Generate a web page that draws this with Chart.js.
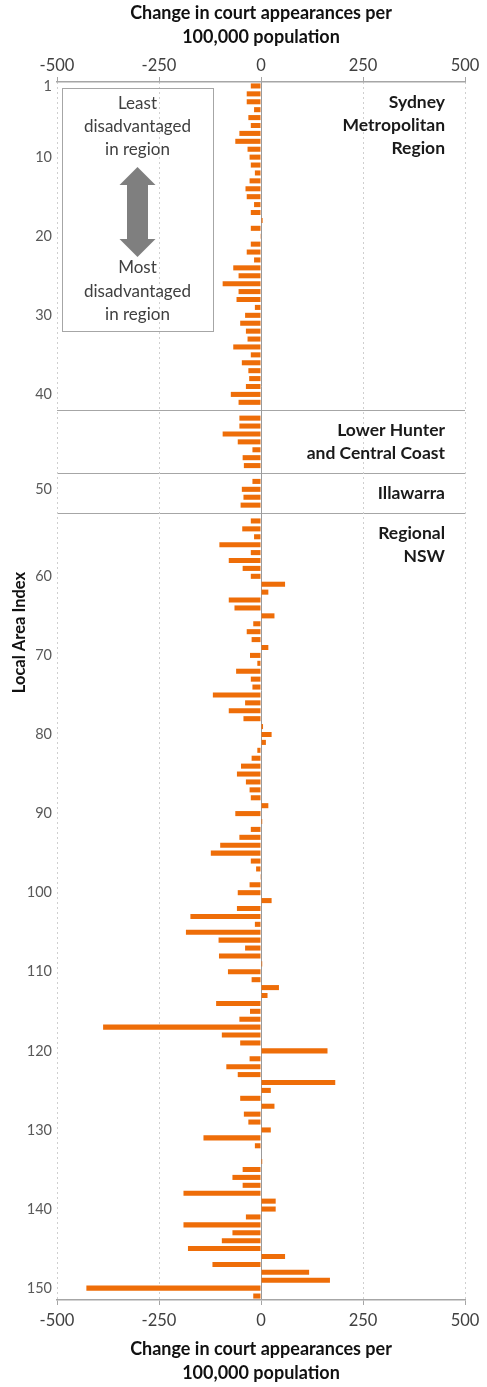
<!DOCTYPE html>
<html>
<head>
<meta charset="utf-8">
<script src="https://cdn.jsdelivr.net/npm/chart.js@4.4.1/dist/chart.umd.min.js"></script>
<style>
  html, body { margin: 0; padding: 0; background: #fff; }
  #wrap { width: 487px; height: 1387px; position: relative; }
</style>
</head>
<body>
<div id="wrap"><canvas id="lgaChart"></canvas></div>
<script>
// change in court appearances per 100,000 population, by local area index
var regionNames = [
    ['Sydney', 'Metropolitan', 'Region'],
    ['Lower Hunter', 'and Central Coast'],
    ['Illawarra'],
    ['Regional', 'NSW']
];
var sydneyValues = [-25, -35, -35, -17, -31, -25, -53, -63, -33, -28,
    -25, -15, -28, -38, -35, -17, -25, 4, -25, -2,
    -25, -35, -17, -68, -55, -94, -55, -60, -15, -39,
    -51, -37, -33, -68, -25, -47, -31, -29, -37, -74, -55];
var lowerHunterValues = [-53, -53, -94, -57, -21, -45, -42];
var illawarraValues = [-21, -47, -43, -50];
var regionalValues = [-25, -46, -17, -102, -25, -79, -45, -25, 59, 18,
    -79, -65, 33, -19, -35, -23, 18, -27, -9, -61,
    -25, -21, -118, -39, -79, -43, 5, 26, 12, -9,
    -23, -49, -59, -37, -28, -25, 18, -63, 3, -25,
    -53, -100, -123, -25, -12, -2, -28, -57, 26, -59,
    -173, -15, -184, -104, -39, -103, 3, -81, -23, 44,
    16, -110, -27, -53, -387, -96, -51, 163, -28, -85,
    -57, 182, 24, -51, 33, -42, -31, 24, -141, -15,
    0, 3, -45, -70, -45, -190, 36, 36, -37, -190,
    -70, -96, -179, 59, -119, 118, 169, -428, -19];
var yTickLabels = [1, 10, 20, 30, 40, 50, 60, 70, 80, 90, 100, 110, 120, 130, 140, 150];
var xTickLabels = [-500, -250, 0, 250, 500];
var xTitle = ['Change in court appearances per', '100,000 population'];
var yTitle = 'Local Area Index';
var legendTop = ['Least', 'disadvantaged', 'in region'];
var legendBottom = ['Most', 'disadvantaged', 'in region'];

//================ build categories: a blank slot separates each region
var regionSeries = [sydneyValues, lowerHunterValues, illawarraValues, regionalValues];
var labels = [], values = [], regionStart = [];
var n = 1;
for (var r = 0; r < regionSeries.length; r++) {
    if (r > 0) { labels.push(''); values.push(null); }
    regionStart.push(labels.length - (r > 0 ? 1 : 0));
    for (var j = 0; j < regionSeries[r].length; j++) {
        labels.push(String(n));
        values.push(regionSeries[r][j]);
        n++;
    }
}

var FONT = 'Lato';
Chart.defaults.font.family = FONT;

//================ extra drawing: region names, legend box, y title
var extrasPlugin = {
    id: 'extras',
    afterDraw: function(chart) {
        var ctx = chart.ctx, ca = chart.chartArea, ys = chart.scales.y;
        ctx.save();
        // region names, right aligned
        ctx.fillStyle = '#1a1a1a';
        ctx.font = 'bold 17.5px ' + FONT;
        ctx.textAlign = 'right';
        ctx.textBaseline = 'middle';
        for (var r = 0; r < regionNames.length; r++) {
            var topPx = r === 0 ? ca.top : ys.getPixelForValue(regionStart[r]);
            for (var k = 0; k < regionNames[r].length; k++) {
                ctx.fillText(regionNames[r][k], ca.right - 20, topPx + 20 + k * 23);
            }
        }
        // legend box
        var bx = ca.left + 5, by = ca.top + 6, bw = 151, bh = 243;
        ctx.strokeStyle = '#a6a6a6';
        ctx.lineWidth = 1;
        ctx.strokeRect(bx + 0.5, by + 0.5, bw, bh);
        var cx = bx + bw / 2;
        ctx.fillStyle = '#404040';
        ctx.font = '17px ' + FONT;
        ctx.textAlign = 'center';
        legendTop.forEach(function(t, i) { ctx.fillText(t, cx, by + 16 + i * 23); });
        legendBottom.forEach(function(t, i) { ctx.fillText(t, cx, by + 180 + i * 23.5); });
        // double headed arrow
        var at = by + 79, ab = by + 169, hw = 18, sw = 10.5, hh = 18;
        ctx.fillStyle = '#7f7f7f';
        ctx.beginPath();
        ctx.moveTo(cx, at);
        ctx.lineTo(cx + hw, at + hh);
        ctx.lineTo(cx + sw, at + hh);
        ctx.lineTo(cx + sw, ab - hh);
        ctx.lineTo(cx + hw, ab - hh);
        ctx.lineTo(cx, ab);
        ctx.lineTo(cx - hw, ab - hh);
        ctx.lineTo(cx - sw, ab - hh);
        ctx.lineTo(cx - sw, at + hh);
        ctx.lineTo(cx - hw, at + hh);
        ctx.closePath();
        ctx.fill();
        // y axis title
        ctx.translate(20, ca.top + (ca.bottom - ca.top) * 0.452);
        ctx.rotate(-Math.PI / 2);
        ctx.fillStyle = '#111';
        ctx.font = 'bold 16.5px ' + FONT;
        ctx.fillText(yTitle, 0, 0);
        ctx.restore();
    }
};

var axisGray = '#a6a6a6';
var tickFont = { family: FONT, size: 16.5 };
var titleFont = { family: FONT, size: 18, weight: 'bold', lineHeight: 1.33 };

var config = {
    type: 'bar',
    data: {
        labels: labels,
        datasets: [{
            data: values,
            backgroundColor: '#ee6d08',
            borderWidth: 0,
            barPercentage: 0.64,
            categoryPercentage: 1.0,
            xAxisID: 'x'
        }]
    },
    options: {
        indexAxis: 'y',
        responsive: true,
        maintainAspectRatio: false,
        animation: false,
        layout: { padding: { left: 0, right: 22, top: 0, bottom: 0 } },
        plugins: { legend: { display: false }, tooltip: { enabled: false } },
        scales: {
            y: {
                type: 'category',
                offset: true,
                afterFit: function(s) { s.width = 57; },
                grid: {
                    offset: false,
                    drawTicks: false,
                    lineWidth: 1,
                    color: function(c) { return labels[c.index] === '' ? axisGray : 'rgba(0,0,0,0)'; }
                },
                border: { display: false },
                ticks: {
                    autoSkip: false,
                    padding: 5,
                    color: '#595959',
                    font: { family: FONT, size: 14.5 },
                    callback: function(v) {
                        var l = this.getLabelForValue(v);
                        return (l !== '' && yTickLabels.indexOf(+l) >= 0) ? l : '';
                    }
                }
            },
            x: {
                position: 'bottom',
                min: -500, max: 500,
                afterFit: function(s) { s.height = 87; },
                afterBuildTicks: function(s) { s.ticks = xTickLabels.map(function(v) { return { value: v }; }); },
                grid: {
                    color: function(c) { return c.tick && c.tick.value === 0 ? '#9a9a9a' : '#cfcfcf'; },
                    tickColor: axisGray,
                    tickLength: 5
                },
                border: {
                    display: true, color: axisGray, width: 1.5,
                    dash: function(c) { return c.tick && c.tick.value === 0 ? [] : [2, 3]; }
                },
                ticks: { padding: 6, color: '#404040', font: tickFont },
                title: { display: true, text: xTitle, color: '#111', font: titleFont, padding: { top: 0, bottom: 2 } }
            },
            x2: {
                position: 'top',
                min: -500, max: 500,
                afterFit: function(s) { s.height = 82; },
                afterBuildTicks: function(s) { s.ticks = xTickLabels.map(function(v) { return { value: v }; }); },
                grid: { drawOnChartArea: false, tickColor: axisGray, tickLength: 5 },
                border: { display: true, color: axisGray, width: 1.5 },
                ticks: { padding: 1, color: '#404040', font: tickFont },
                title: { display: true, text: xTitle, color: '#111', font: titleFont, padding: { top: 1, bottom: 0 } }
            }
        }
    },
    plugins: [extrasPlugin]
};

var lgaChart = new Chart(document.getElementById('lgaChart').getContext('2d'), config);
</script>
</body>
</html>
